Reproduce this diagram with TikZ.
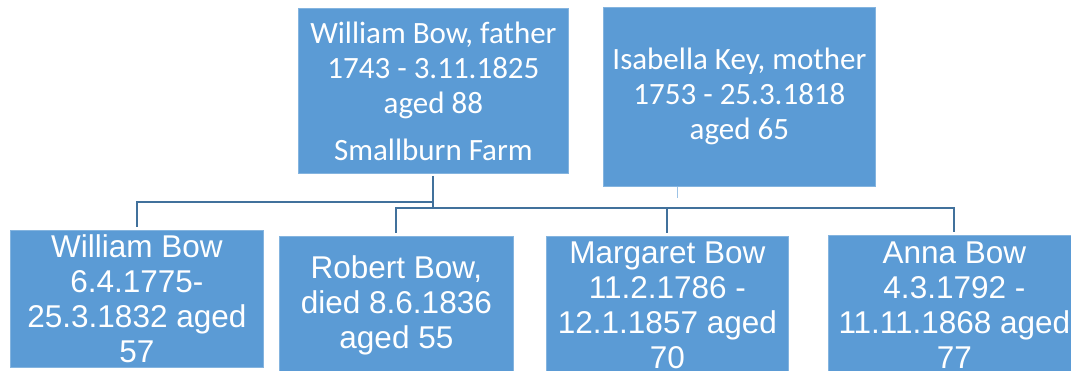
\documentclass[tikz,border=0pt]{standalone}
\usepackage{fontspec}
\newfontfamily\calibfont{Carlito}
\newfontfamily\arialfont{Liberation Sans}
\usetikzlibrary{positioning}
\definecolor{boxblue}{HTML}{5B9BD5}
\definecolor{lineblue}{HTML}{41719C}
\definecolor{stubblue}{HTML}{9DC3E6}

\begin{document}
\begin{tikzpicture}[x=1pt,y=-1pt,
    parent/.style={rectangle, fill=boxblue, draw=boxblue!75!white, line width=0.8pt,
        text=white, align=center, anchor=north west, inner sep=0pt,
        font=\calibfont\fontsize{31}{35}\selectfont},
    child/.style={parent, font=\arialfont\fontsize{31.5}{35}\selectfont},
    link/.style={draw=lineblue, line width=2pt},
    stub/.style={draw=stubblue, line width=1pt}]

    \useasboundingbox (0,0) rectangle (1071,371);

    % Parents
    \node[parent, minimum width=270pt, minimum height=165pt] (father) at (298,8)
        {William Bow, father\\1743 - 3.11.1825\\aged 88\\[12pt]Smallburn Farm};
    \node[parent, minimum width=272pt, minimum height=179pt] (mother) at (603,7)
        {Isabella Key, mother\\1753 - 25.3.1818\\aged 65};

    % Children
    \node[child, minimum width=253pt, minimum height=137pt] (will) at (10,230)
        {William Bow\\6.4.1775-\\25.3.1832 aged\\57};
    \node[child, minimum width=234pt, minimum height=138pt] (rob) at (279,236)
        {Robert Bow,\\died 8.6.1836\\aged 55};
    \node[child, minimum width=242pt, minimum height=138pt] (marg) at (546,236)
        {Margaret Bow\\11.2.1786 -\\12.1.1857 aged\\70};
    \node[child, minimum width=252pt, minimum height=139pt] (anna) at (828,235)
        {Anna Bow\\4.3.1792 -\\11.11.1868 aged\\77};

    % Lines
    \coordinate (busA) at (0,202);
    \coordinate (busB) at (0,208);
    \draw[stub] ([xshift=-62pt]mother.south) -- ++(0,11);
    \draw[link] ([yshift=-2pt]father.south) -- (father.south |- busB);
    \draw[link] (father.south |- busA) -| ([yshift=3pt]will.north);
    \draw[link] ([yshift=3pt]rob.north) |- (anna.north |- busB) -- ([yshift=3pt]anna.north);
    \draw[link] (marg.north |- busB) -- ([yshift=3pt]marg.north);
\end{tikzpicture}
\end{document}
